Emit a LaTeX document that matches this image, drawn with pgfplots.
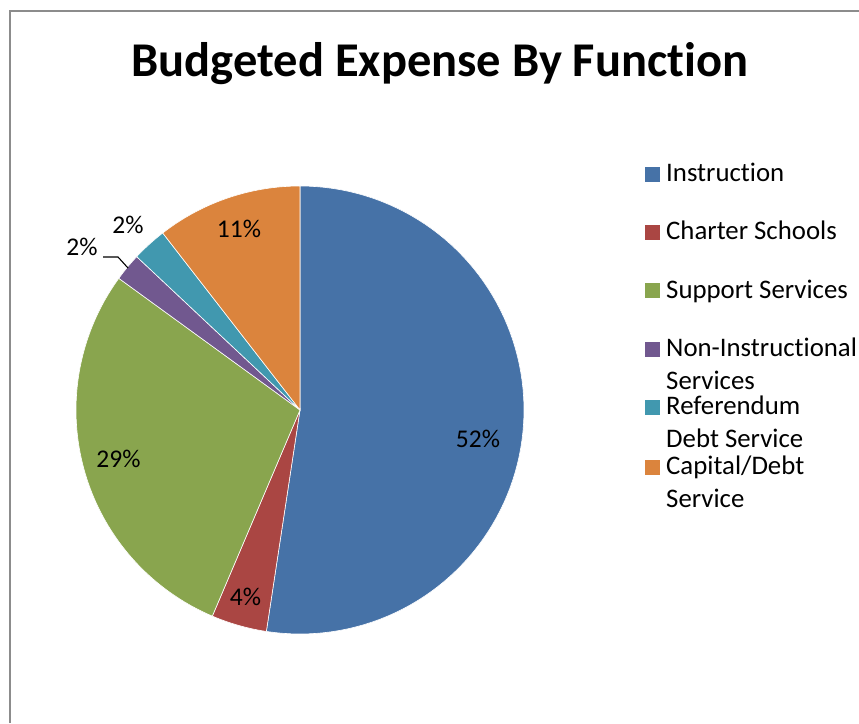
\documentclass[border=0pt]{standalone}
\usepackage{pgfplots}
\usepackage{pgfplotstable}
\pgfplotsset{compat=1.18}
\usepackage{fontspec}
\setmainfont{Carlito}[Ligatures=NoCommon]

\definecolor{slice0}{HTML}{4672A7}
\definecolor{slice1}{HTML}{AA4643}
\definecolor{slice2}{HTML}{89A54E}
\definecolor{slice3}{HTML}{71588F}
\definecolor{slice4}{HTML}{4198AF}
\definecolor{slice5}{HTML}{DB843D}

% share of the budget, percent
\pgfplotstableread{
value
52.4
4.0
28.6
2.0
2.5
10.5
}\budget

% start and end angle of each slice, clockwise from 12 o'clock
\def\acc{90}
\pgfplotsforeachungrouped \i in {0,...,5}{%
  \pgfplotstablegetelem{\i}{value}\of\budget
  \pgfmathsetmacro\hi{\acc}%
  \pgfmathsetmacro\lo{\acc-\pgfplotsretval*3.6}%
  \expandafter\xdef\csname hi\i\endcsname{\hi}%
  \expandafter\xdef\csname lo\i\endcsname{\lo}%
  \xdef\acc{\lo}%
}
\def\R{224}

\begin{document}%
\begin{tikzpicture}
\useasboundingbox (0,0) rectangle (859pt,723pt);
\draw[gray!90, line width=2pt] (10pt,0) -- (10pt,712pt) -- (859pt,712pt);

\node[anchor=base, font=\fontsize{48.5}{58}\selectfont\bfseries] at (440pt,646pt) {Budgeted Expense By Function};

\begin{axis}[
    x=1pt, y=1pt,
    hide axis,
    xmin=-224, xmax=224,
    ymin=-224, ymax=224,
    anchor=origin, at={(300pt,313pt)},
    clip=false,
]
\pgfplotsinvokeforeach{0,...,5}{
  \addplot[fill=slice#1, draw=white, line width=0.6pt, samples=90, variable=\t,
    domain=\csname lo#1\endcsname:\csname hi#1\endcsname]
    ({\R*cos(\t)},{\R*sin(\t)}) -- (axis cs:0,0) -- cycle;
}
\begin{scope}[every node/.style={anchor=base, font=\fontsize{25.5}{30}\selectfont}]
\node at (axis cs:178,-38) {52\%};
\node at (axis cs:-54.5,-196) {4\%};
\node at (axis cs:-181.5,-58) {29\%};
\node at (axis cs:-218,154) {2\%};
\node at (axis cs:-172,176) {2\%};
\node at (axis cs:-61,172) {11\%};
\end{scope}
\draw[black, line width=1.1pt] (axis cs:-197,153) -- (axis cs:-182,153) -- (axis cs:-172,142);
\end{axis}

% legend
\begin{scope}[every node/.style={anchor=base west, inner sep=0pt, font=\fontsize{26.8}{33}\selectfont}]
\foreach \c/\b/\txt/\second in {
  slice0/182/Instruction/,
  slice1/240/Charter Schools/,
  slice2/298.5/Support Services/,
  slice3/357/Non-Instructional/Services,
  slice4/415/Referendum/Debt Service,
  slice5/475/Capital\slash Debt/Service}{
  \fill[\c] (645pt,{(723-\b)*1pt}) rectangle (660pt,{(723-\b+15)*1pt});
  \node at (666pt,{(723-\b)*1pt}) {\txt};
  \node at (666pt,{(723-\b-33)*1pt}) {\second};
}
\end{scope}
\end{tikzpicture}%
\end{document}
